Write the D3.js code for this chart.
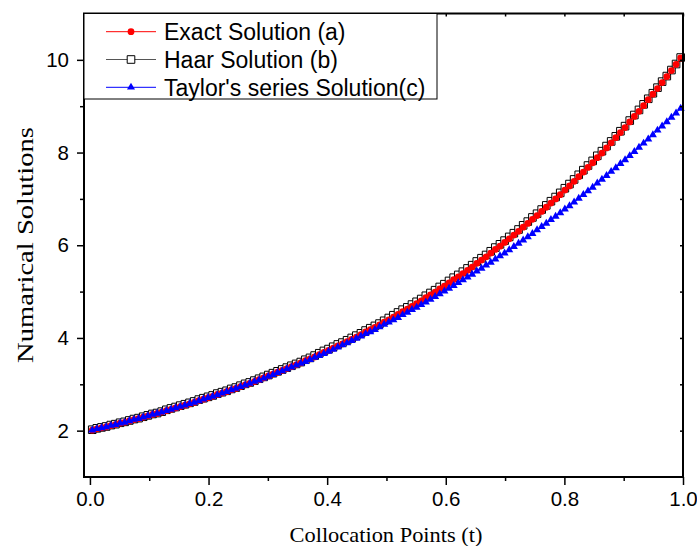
<!DOCTYPE html>
<html>
<head>
<meta charset="utf-8">
<script src="https://d3js.org/d3.v7.min.js"></script>
<style>
    body { margin: 0; background: #fff; }
    text { fill: #000; }
</style>
</head>
<body>
<div id="chart_area"></div>
<script>
// collocation points t
var tPoints = [
    0.0039, 0.0117, 0.0195, 0.0273, 0.0352, 0.0430, 0.0508, 0.0586, 0.0664, 0.0742, 0.0820, 0.0898, 0.0977, 0.1055, 0.1133, 0.1211,
    0.1289, 0.1367, 0.1445, 0.1523, 0.1602, 0.1680, 0.1758, 0.1836, 0.1914, 0.1992, 0.2070, 0.2148, 0.2227, 0.2305, 0.2383, 0.2461,
    0.2539, 0.2617, 0.2695, 0.2773, 0.2852, 0.2930, 0.3008, 0.3086, 0.3164, 0.3242, 0.3320, 0.3398, 0.3477, 0.3555, 0.3633, 0.3711,
    0.3789, 0.3867, 0.3945, 0.4023, 0.4102, 0.4180, 0.4258, 0.4336, 0.4414, 0.4492, 0.4570, 0.4648, 0.4727, 0.4805, 0.4883, 0.4961,
    0.5039, 0.5117, 0.5195, 0.5273, 0.5352, 0.5430, 0.5508, 0.5586, 0.5664, 0.5742, 0.5820, 0.5898, 0.5977, 0.6055, 0.6133, 0.6211,
    0.6289, 0.6367, 0.6445, 0.6523, 0.6602, 0.6680, 0.6758, 0.6836, 0.6914, 0.6992, 0.7070, 0.7148, 0.7227, 0.7305, 0.7383, 0.7461,
    0.7539, 0.7617, 0.7695, 0.7773, 0.7852, 0.7930, 0.8008, 0.8086, 0.8164, 0.8242, 0.8320, 0.8398, 0.8477, 0.8555, 0.8633, 0.8711,
    0.8789, 0.8867, 0.8945, 0.9023, 0.9102, 0.9180, 0.9258, 0.9336, 0.9414, 0.9492, 0.9570, 0.9648, 0.9727, 0.9805, 0.9883, 0.9961
];

// Exact Solution (a)
var exactVals = [
    2.01, 2.04, 2.06, 2.08, 2.11, 2.13, 2.16, 2.18, 2.21, 2.24, 2.26, 2.29, 2.32, 2.35, 2.37, 2.40,
    2.43, 2.46, 2.49, 2.52, 2.55, 2.58, 2.61, 2.65, 2.68, 2.71, 2.74, 2.78, 2.81, 2.84, 2.88, 2.91,
    2.95, 2.99, 3.02, 3.06, 3.10, 3.14, 3.18, 3.22, 3.26, 3.30, 3.34, 3.38, 3.42, 3.46, 3.51, 3.55,
    3.59, 3.64, 3.69, 3.73, 3.78, 3.83, 3.87, 3.92, 3.97, 4.02, 4.07, 4.13, 4.18, 4.23, 4.28, 4.34,
    4.39, 4.45, 4.51, 4.57, 4.62, 4.68, 4.74, 4.80, 4.87, 4.93, 4.99, 5.06, 5.12, 5.19, 5.26, 5.32,
    5.39, 5.46, 5.53, 5.61, 5.68, 5.75, 5.83, 5.91, 5.98, 6.06, 6.14, 6.22, 6.30, 6.39, 6.47, 6.56,
    6.64, 6.73, 6.82, 6.91, 7.00, 7.09, 7.19, 7.28, 7.38, 7.48, 7.58, 7.68, 7.78, 7.89, 7.99, 8.10,
    8.21, 8.32, 8.43, 8.54, 8.66, 8.78, 8.89, 9.01, 9.14, 9.26, 9.38, 9.51, 9.64, 9.77, 9.90, 10.04
];

// Haar Solution (b)
var haarVals = [
    2.02, 2.05, 2.07, 2.09, 2.12, 2.14, 2.17, 2.19, 2.22, 2.25, 2.27, 2.30, 2.33, 2.36, 2.38, 2.41,
    2.45, 2.48, 2.51, 2.54, 2.57, 2.60, 2.63, 2.67, 2.70, 2.73, 2.76, 2.80, 2.83, 2.86, 2.90, 2.93,
    2.97, 3.01, 3.04, 3.08, 3.12, 3.16, 3.20, 3.24, 3.28, 3.32, 3.36, 3.40, 3.44, 3.48, 3.53, 3.57,
    3.62, 3.67, 3.72, 3.76, 3.81, 3.86, 3.90, 3.95, 4.00, 4.05, 4.10, 4.16, 4.21, 4.26, 4.31, 4.37,
    4.43, 4.49, 4.55, 4.61, 4.66, 4.72, 4.78, 4.84, 4.91, 4.97, 5.03, 5.10, 5.16, 5.23, 5.30, 5.36,
    5.43, 5.50, 5.57, 5.65, 5.72, 5.79, 5.87, 5.95, 6.02, 6.10, 6.18, 6.26, 6.34, 6.43, 6.51, 6.60,
    6.68, 6.77, 6.86, 6.95, 7.04, 7.13, 7.23, 7.32, 7.42, 7.52, 7.62, 7.72, 7.82, 7.93, 8.03, 8.14,
    8.24, 8.35, 8.46, 8.57, 8.69, 8.81, 8.92, 9.04, 9.16, 9.28, 9.40, 9.53, 9.65, 9.78, 9.91, 10.05
];

// Taylor's series Solution (c)
var taylorVals = [
    2.01, 2.04, 2.06, 2.08, 2.11, 2.13, 2.16, 2.18, 2.21, 2.24, 2.26, 2.29, 2.32, 2.35, 2.37, 2.40,
    2.43, 2.46, 2.49, 2.52, 2.55, 2.58, 2.61, 2.64, 2.68, 2.71, 2.74, 2.77, 2.81, 2.84, 2.88, 2.91,
    2.95, 2.98, 3.02, 3.06, 3.09, 3.13, 3.17, 3.21, 3.25, 3.29, 3.33, 3.37, 3.41, 3.45, 3.49, 3.53,
    3.58, 3.62, 3.66, 3.71, 3.75, 3.80, 3.85, 3.89, 3.94, 3.99, 4.04, 4.09, 4.13, 4.18, 4.24, 4.29,
    4.34, 4.39, 4.44, 4.50, 4.55, 4.61, 4.66, 4.72, 4.77, 4.83, 4.89, 4.95, 5.01, 5.07, 5.13, 5.19,
    5.25, 5.31, 5.37, 5.44, 5.50, 5.57, 5.63, 5.70, 5.77, 5.83, 5.90, 5.97, 6.04, 6.11, 6.18, 6.25,
    6.33, 6.40, 6.47, 6.55, 6.62, 6.70, 6.78, 6.85, 6.93, 7.01, 7.09, 7.17, 7.25, 7.34, 7.42, 7.50,
    7.59, 7.67, 7.76, 7.84, 7.93, 8.02, 8.11, 8.20, 8.29, 8.38, 8.48, 8.57, 8.66, 8.76, 8.85, 8.95
];

var xMajor = [0, 0.2, 0.4, 0.6, 0.8, 1.0];
var xMinor = [0.1, 0.3, 0.5, 0.7, 0.9];
var yMajor = [2, 4, 6, 8, 10];
var yMinor = [3, 5, 7, 9];

var seriesNames = ["Exact Solution (a)", "Haar Solution (b)", "Taylor's series Solution(c)"];

// plot box
var W = 697, H = 546;
var pLeft = 84, pRight = 683, pTop = 13.5, pBottom = 477;

var svg = d3.select("#chart_area")
    .append("svg")
    .attr("width", W)
    .attr("height", H);

var x = d3.scaleLinear().domain([-0.01, 1.0]).range([pLeft, pRight]);
var y = d3.scaleLinear().domain([1, 11]).range([pBottom, pTop]);

// series table
var series = [
    { name: seriesNames[1], vals: haarVals, color: "#555", sym: d3.symbolSquare, size: 58, fill: "#fff", stroke: "#000" },
    { name: seriesNames[0], vals: exactVals, color: "#ff0000", sym: d3.symbolCircle, size: 36, fill: "#ff0000", stroke: "none" },
    { name: seriesNames[2], vals: taylorVals, color: "#0000ff", sym: d3.symbolTriangle, size: 28, fill: "#0000ff", stroke: "none" }
];

var line = d3.line()
    .x(function (d) { return x(d[0]); })
    .y(function (d) { return y(d[1]); });

series.forEach(function (s) {
    var pts = tPoints.map(function (t, i) { return [t, s.vals[i]]; });
    svg.append("path")
        .datum(pts)
        .attr("fill", "none")
        .attr("stroke", s.color)
        .attr("stroke-width", 1)
        .attr("d", line);
    svg.selectAll(null)
        .data(pts)
        .enter()
        .append("path")
        .attr("transform", function (d) { return "translate(" + x(d[0]) + "," + y(d[1]) + ")"; })
        .attr("d", d3.symbol().type(s.sym).size(s.size))
        .attr("fill", s.fill)
        .attr("stroke", s.stroke)
        .attr("stroke-width", 1);
});

// axes: bottom and left with outward ticks
var bottomAxis = svg.append("g")
    .attr("transform", "translate(0," + pBottom + ")")
    .call(d3.axisBottom(x).tickValues(xMajor).tickSize(8).tickPadding(6).tickFormat(d3.format(".1f")));
bottomAxis.selectAll("text").style("font-family", "'Liberation Sans', Arial, sans-serif").style("font-size", "20.5px");
svg.append("g")
    .attr("transform", "translate(0," + pBottom + ")")
    .call(d3.axisBottom(x).tickValues(xMinor).tickSize(4).tickFormat(""));

var leftAxis = svg.append("g")
    .attr("transform", "translate(" + pLeft + ",0)")
    .call(d3.axisLeft(y).tickValues(yMajor).tickSize(7).tickPadding(8));
leftAxis.selectAll("text").style("font-family", "'Liberation Sans', Arial, sans-serif").style("font-size", "20.5px");
svg.append("g")
    .attr("transform", "translate(" + pLeft + ",0)")
    .call(d3.axisLeft(y).tickValues(yMinor).tickSize(4).tickFormat(""));

// top and right: small inward ticks
svg.append("g")
    .attr("transform", "translate(0," + pTop + ")")
    .call(d3.axisBottom(x).tickValues(xMajor.concat(xMinor)).tickSize(3).tickFormat(""));
svg.append("g")
    .attr("transform", "translate(" + pRight + ",0)")
    .call(d3.axisLeft(y).tickValues(yMajor.concat(yMinor)).tickSize(3).tickFormat(""));

svg.selectAll(".domain").remove();
svg.selectAll(".tick line").attr("stroke", "#000").attr("stroke-width", 1.5);

// frame
svg.append("rect")
    .attr("x", pLeft)
    .attr("y", pTop)
    .attr("width", pRight - pLeft)
    .attr("height", pBottom - pTop)
    .attr("fill", "none")
    .attr("stroke", "#000")
    .attr("stroke-width", 2);

// legend
var lg = svg.append("g");
lg.append("rect")
    .attr("x", pLeft)
    .attr("y", pTop)
    .attr("width", 353)
    .attr("height", 85.5)
    .attr("fill", "#fff")
    .attr("stroke", "#000")
    .attr("stroke-width", 1);

var legendOrder = [series[1], series[0], series[2]];
legendOrder.forEach(function (s, i) {
    var cy = 31.7 + i * 27.8;
    lg.append("line")
        .attr("x1", 106).attr("x2", 156)
        .attr("y1", cy).attr("y2", cy)
        .attr("stroke", s.color)
        .attr("stroke-width", 1);
    lg.append("path")
        .attr("transform", "translate(131," + cy + ")")
        .attr("d", d3.symbol().type(s.sym).size(s.size))
        .attr("fill", s.fill)
        .attr("stroke", s.stroke)
        .attr("stroke-width", 1);
    lg.append("text")
        .attr("x", 164)
        .attr("y", cy)
        .attr("dy", "0.36em")
        .style("font-family", "'Liberation Sans', Arial, sans-serif")
        .style("font-size", "23px")
        .text(s.name);
});

// axis titles
svg.append("text")
    .attr("x", 386)
    .attr("y", 542)
    .attr("text-anchor", "middle")
    .attr("textLength", 193)
    .attr("lengthAdjust", "spacingAndGlyphs")
    .style("font-family", "'Liberation Serif', 'Times New Roman', serif")
    .style("font-size", "22px")
    .text("Collocation Points (t)");

svg.append("text")
    .attr("transform", "translate(33,245) rotate(-90)")
    .attr("text-anchor", "middle")
    .attr("textLength", 236)
    .attr("lengthAdjust", "spacingAndGlyphs")
    .style("font-family", "'Liberation Serif', 'Times New Roman', serif")
    .style("font-size", "24px")
    .text("Numarical Solutions");
</script>
</body>
</html>
